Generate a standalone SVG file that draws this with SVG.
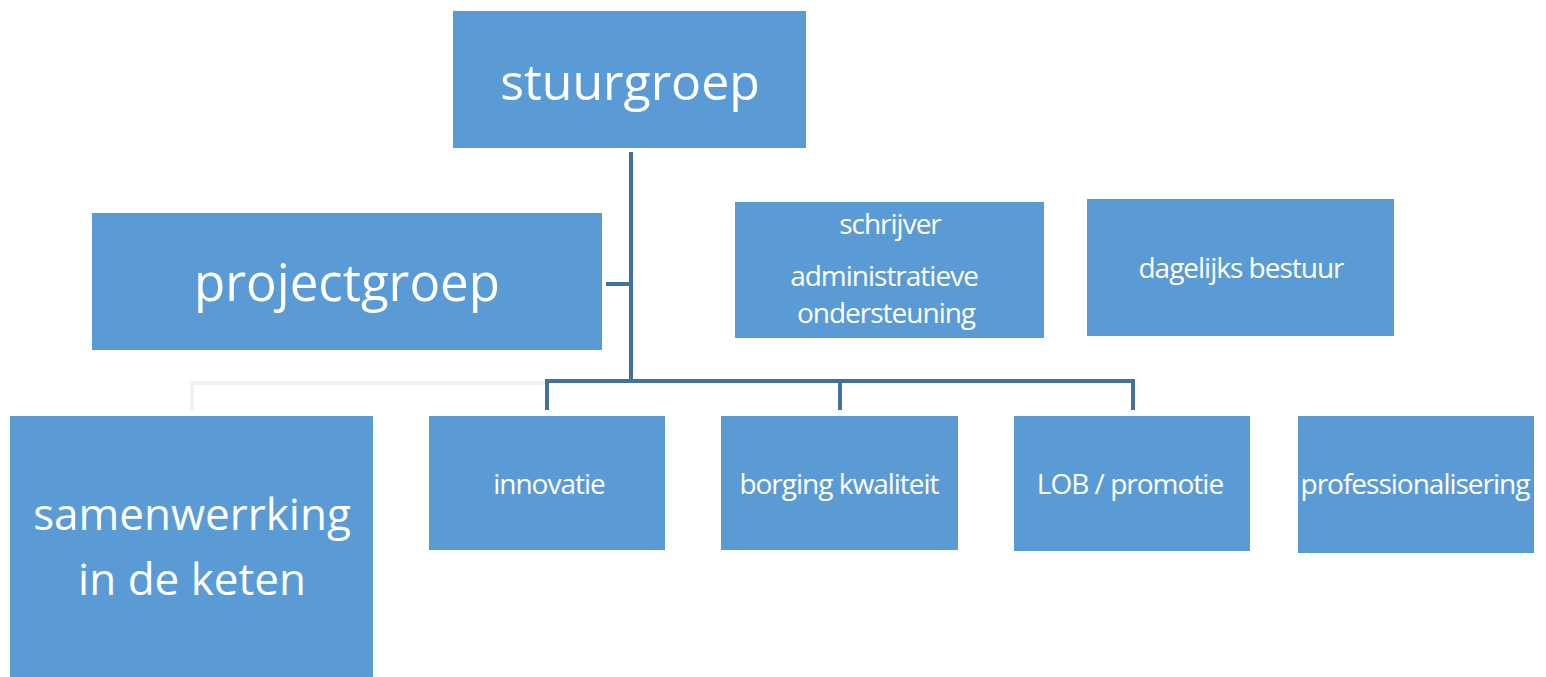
<svg xmlns="http://www.w3.org/2000/svg" width="1546" height="677" viewBox="0 0 1546 677">
<style>
.box{fill:#5B9BD5;}
text{font-family:"Open Sans","Noto Sans",sans-serif;fill:#FFFFFF;text-anchor:middle;}
.big{font-size:50px;}
.mid{font-size:44px;}
.sm{font-size:28px;letter-spacing:-1px;}
.conn{stroke:#41719C;stroke-width:4;fill:none;}
.faint{stroke:#EDF2F9;stroke-width:4;fill:none;}
</style>
<rect width="1546" height="677" fill="#FFFFFF"/>
<g id="connectors">
<path class="faint" d="M192,410 V383 H547"/>
<path class="conn" d="M631,152 V381"/>
<path class="conn" d="M606,284 H631"/>
<path class="conn" d="M547,410 V381 H1133 V410"/>
<path class="conn" d="M840,381 V410"/>
</g>
<g id="stuurgroep"><rect class="box" x="453" y="11" width="353" height="137"/><text class="big" x="630" y="100">stuurgroep</text></g>
<g id="projectgroep"><rect class="box" x="92" y="213" width="510" height="137"/><text class="big" x="347" y="301" style="font-size:51px">projectgroep</text></g>
<g id="schrijver"><rect class="box" x="735" y="202" width="309" height="136"/><text class="sm" x="890" y="234">schrijver</text><text class="sm" x="884" y="286">administratieve</text><text class="sm" x="886" y="323">ondersteuning</text></g>
<g id="dagelijks"><rect class="box" x="1087" y="199" width="307" height="137"/><text class="sm" x="1241" y="278">dagelijks bestuur</text></g>
<g id="samenwerking"><rect class="box" x="10" y="416" width="363" height="261"/><text class="mid" x="192" y="530">samenwerrking</text><text class="mid" x="192" y="595">in de keten</text></g>
<g id="innovatie"><rect class="box" x="429" y="416" width="236" height="134"/><text class="sm" x="549" y="494">innovatie</text></g>
<g id="borging"><rect class="box" x="721" y="416" width="237" height="134"/><text class="sm" x="839" y="494">borging kwaliteit</text></g>
<g id="lob"><rect class="box" x="1014" y="416" width="236" height="135"/><text class="sm" x="1130" y="494">LOB / promotie</text></g>
<g id="professionalisering"><rect class="box" x="1298" y="416" width="236" height="137"/><text class="sm" x="1415" y="494">professionalisering</text></g>
</svg>
